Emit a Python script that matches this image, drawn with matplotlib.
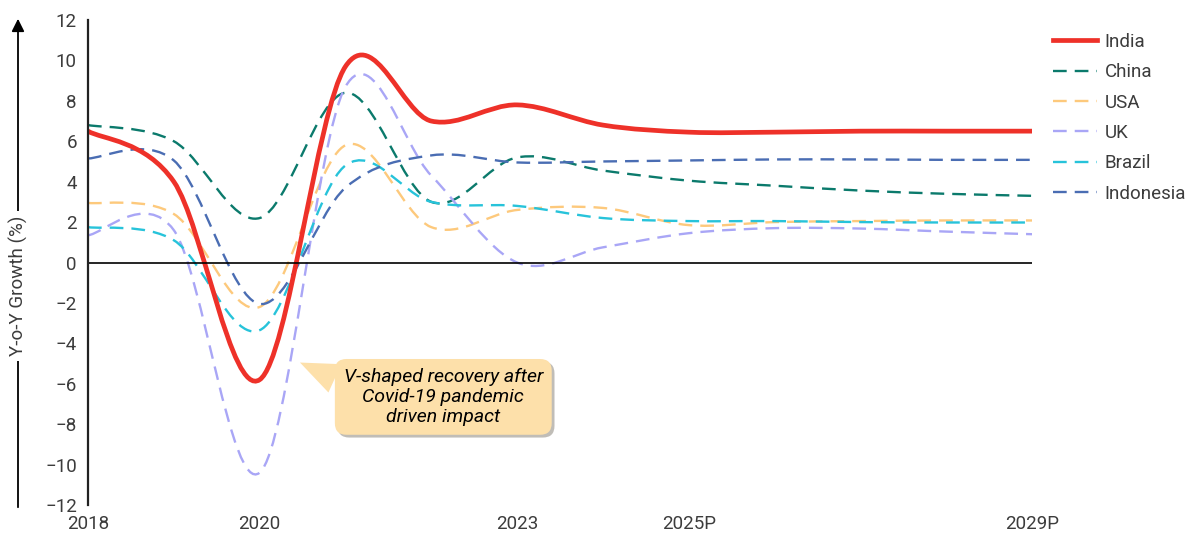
import numpy as np
import matplotlib
matplotlib.use("Agg")
import matplotlib.pyplot as plt
from matplotlib.path import Path
from matplotlib.patches import PathPatch, FancyArrowPatch
from matplotlib.lines import Line2D
import matplotlib.patheffects as pe

plt.rcParams['font.family'] = ['Roboto', 'DejaVu Sans']

years = [2018, 2019, 2020, 2021, 2022, 2023, 2024, 2025, 2026, 2027, 2028, 2029]
india = [6.5, 4.0, -5.8, 9.7, 7.0, 7.8, 6.8, 6.45, 6.45, 6.5, 6.5, 6.5]
china = [6.8, 6.0, 2.2, 8.4, 3.0, 5.2, 4.55, 4.05, 3.8, 3.56, 3.4, 3.3]
usa = [2.95, 2.4, -2.2, 5.8, 1.75, 2.6, 2.7, 1.85, 2.0, 2.05, 2.08, 2.08]
uk = [1.35, 1.6, -10.4, 8.7, 4.3, 0.0, 0.75, 1.45, 1.7, 1.68, 1.53, 1.4]
brazil = [1.75, 1.1, -3.35, 4.8, 3.0, 2.8, 2.2, 2.05, 2.05, 2.0, 1.98, 1.98]
indonesia = [5.15, 5.05, -2.05, 3.7, 5.3, 4.95, 5.0, 5.05, 5.1, 5.1, 5.08, 5.08]

tick_years = [2018, 2020, 2023, 2025, 2029]
tick_labels = ['2018', '2020', '2023', '2025P', '2029P']

series = [
    ('China', china, '#0b7a6c', 'dash'),
    ('USA', usa, '#fdc97c', 'dash'),
    ('UK', uk, '#a9a6f6', 'dash'),
    ('Brazil', brazil, '#27c3da', 'dash'),
    ('Indonesia', indonesia, '#4a6db3', 'dash'),
    ('India', india, '#ee3129', 'solid'),
]
legend_order = ['India', 'China', 'USA', 'UK', 'Brazil', 'Indonesia']
grey = '#3c3c3c'


def smooth_path(xs, ys):
    # excel-like smoothed line as cubic bezier segments
    x = np.asarray(xs, float)
    y = np.asarray(ys, float)
    n = len(x)
    verts = [(x[0], y[0])]
    codes = [Path.MOVETO]
    for i in range(n - 1):
        i0 = max(i - 1, 0)
        i3 = min(i + 2, n - 1)
        c1 = (x[i] + (x[i + 1] - x[i0]) / 6, y[i] + (y[i + 1] - y[i0]) / 6)
        c2 = (x[i + 1] - (x[i3] - x[i]) / 6, y[i + 1] - (y[i3] - y[i]) / 6)
        verts += [c1, c2, (x[i + 1], y[i + 1])]
        codes += [Path.CURVE4] * 3
    return Path(verts, codes)


fig = plt.figure(figsize=(11.99, 5.33), dpi=100)
ax = fig.add_axes([88 / 1199, 1 - 505 / 533, (1032 - 88) / 1199, 485 / 533])

handles = {}
for name, vals, col, style in series:
    if style == 'solid':
        lw, ls = 3.4, 'solid'
    else:
        lw, ls = 1.7, (0, (5.8, 3.4))
    patch = PathPatch(smooth_path(years, vals), fill=False, edgecolor=col,
                      linewidth=lw, linestyle=ls, capstyle='butt')
    ax.add_patch(patch)
    handles[name] = Line2D([], [], color=col, linewidth=lw, linestyle=ls)

ax.axhline(0, color='black', linewidth=1.2, zorder=1)

ax.set_xlim(2018, 2029)
ax.set_ylim(-12, 12)
ax.set_yticks(range(-12, 13, 2))
ax.set_xticks(tick_years)
ax.set_xticklabels(tick_labels)
ax.tick_params(axis='both', length=0, labelsize=13.5, labelcolor=grey)
ax.tick_params(axis='y', pad=8)
ax.tick_params(axis='x', pad=7)
for s in ['top', 'right', 'bottom']:
    ax.spines[s].set_visible(False)
ax.spines['left'].set_linewidth(1.6)
ax.spines['left'].set_color('#222222')

leg = fig.legend([handles[n] for n in legend_order], legend_order,
                 loc='upper left', bbox_to_anchor=(1036 / 1199, 1 - 16 / 533),
                 frameon=False, fontsize=13.5, handlelength=2.35,
                 handletextpad=0.4, labelspacing=0.66, labelcolor=grey)

# y axis label with arrow
fig.add_artist(FancyArrowPatch(
    (18 / 1199, 1 - 510 / 533), (18 / 1199, 1 - 16 / 533),
    transform=fig.transFigure, arrowstyle='-|>,head_length=5,head_width=2.5',
    color='black', linewidth=1.3, mutation_scale=1.5))
fig.text(18 / 1199, 1 - 286 / 533, 'Y-o-Y Growth (%)', rotation=90,
         ha='center', va='center', fontsize=13.5, color=grey,
         bbox=dict(boxstyle='square,pad=0.25', fc='white', ec='none'))

# callout
ann = ax.annotate('V-shaped recovery after\nCovid-19 pandemic\ndriven impact',
                  xy=(2020.47, -4.95), xytext=(2022.14, -6.65),
                  ha='center', va='center', fontsize=14, style='italic',
                  color='black', linespacing=1.15,
                  bbox=dict(boxstyle='round,pad=0.45,rounding_size=0.6',
                            fc='#fde0aa', ec='none'),
                  arrowprops=dict(arrowstyle='wedge,tail_width=1.6,shrink_factor=0.5',
                                  fc='#fde0aa', ec='none', shrinkA=0, shrinkB=0,
                                  relpos=(0.0, 0.75)),
                  zorder=10)
ann.get_bbox_patch().set_path_effects([pe.SimplePatchShadow(offset=(2, -2), alpha=0.35),
                                       pe.Normal()])

fig.savefig('out.png', dpi=100)
